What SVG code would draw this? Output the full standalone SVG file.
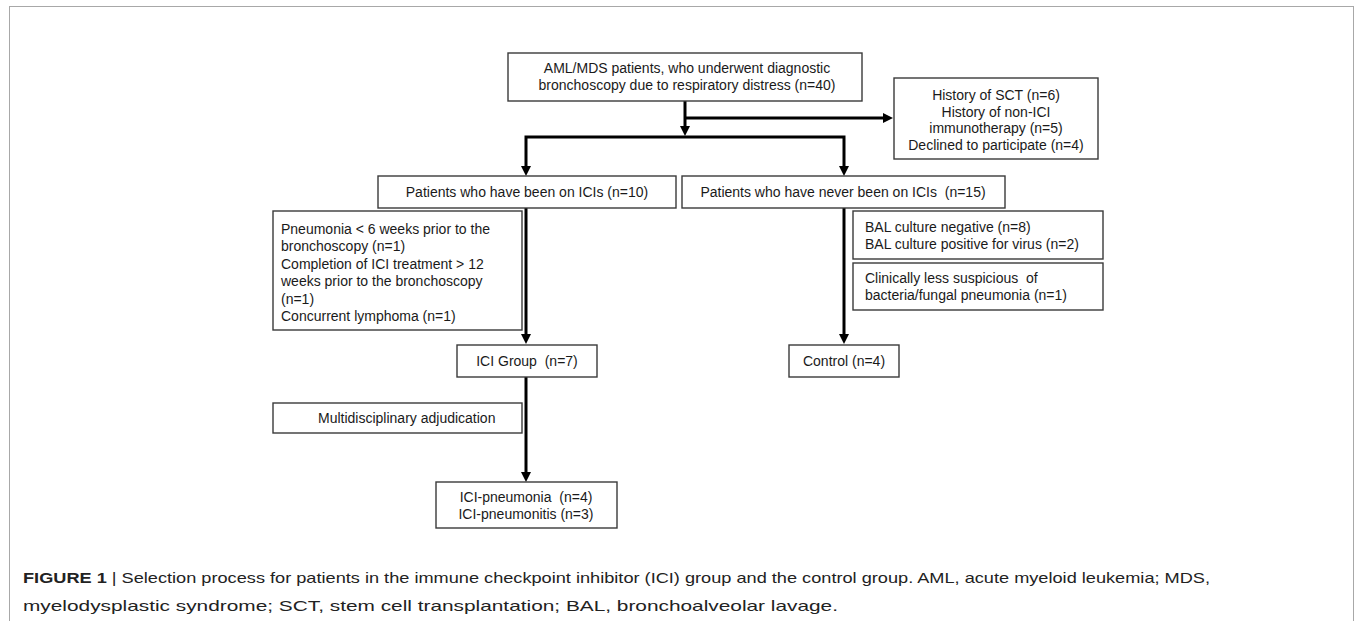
<svg xmlns="http://www.w3.org/2000/svg" width="1355" height="621" viewBox="0 0 1355 621">
<style>
text{font-family:"Liberation Sans",Arial,sans-serif;font-size:14px;fill:#1a1a1a}
.c{text-anchor:middle}
.box{fill:#fff;stroke:#3a3a3a;stroke-width:1.4}
.con{fill:none;stroke:#000;stroke-width:3;marker-end:url(#ah)}
.cap{font-size:15px;fill:#222}
</style>
<defs>
<marker id="ah" markerUnits="userSpaceOnUse" markerWidth="12" markerHeight="12" refX="2" refY="5" orient="auto">
<path d="M0,0 L10,5 L0,10 z" fill="#000"/>
</marker>
</defs>
<rect x="9.5" y="6.5" width="1344" height="620" fill="none" stroke="#a8a8a8" stroke-width="1"/>
<g id="connectors">
<path class="con" d="M685,101 V128"/>
<path class="con" d="M685,118 H885"/>
<path class="con" d="M685,137 H526 V168"/>
<path class="con" d="M685,137 H844 V168"/>
<path class="con" d="M526,208 V336"/>
<path class="con" d="M844,208 V336"/>
<path class="con" d="M526,377 V474"/>
</g>
<g id="n-all">
<rect class="box" x="508" y="53" width="354" height="48"/>
<text class="c" x="687" y="73">AML/MDS patients, who underwent diagnostic</text>
<text class="c" x="687" y="90">bronchoscopy due to respiratory distress (n=40)</text>
</g>
<g id="n-excl1">
<rect class="box" x="894" y="78" width="204" height="81"/>
<text class="c" x="996" y="100">History of SCT (n=6)</text>
<text class="c" x="996" y="116.5">History of non-ICI</text>
<text class="c" x="996" y="133">immunotherapy (n=5)</text>
<text class="c" x="996" y="149.5">Declined to participate (n=4)</text>
</g>
<g id="n-ici">
<rect class="box" x="378" y="176" width="298" height="32"/>
<text class="c" x="527" y="197">Patients who have been on ICIs (n=10)</text>
</g>
<g id="n-nonici">
<rect class="box" x="682" y="176" width="323" height="32"/>
<text class="c" x="843" y="197">Patients who have never been on ICIs&#160; (n=15)</text>
</g>
<g id="n-excl2">
<rect class="box" x="273" y="211" width="249" height="119"/>
<text x="281" y="233.5">Pneumonia &lt; 6 weeks prior to the</text>
<text x="281" y="251">bronchoscopy (n=1)</text>
<text x="281" y="268.5">Completion of ICI treatment &gt; 12</text>
<text x="281" y="286">weeks prior to the bronchoscopy</text>
<text x="281" y="303.5">(n=1)</text>
<text x="281" y="321">Concurrent lymphoma (n=1)</text>
</g>
<g id="n-bal">
<rect class="box" x="853" y="211" width="250" height="48"/>
<text x="865" y="232">BAL culture negative (n=8)</text>
<text x="865" y="249">BAL culture positive for virus (n=2)</text>
</g>
<g id="n-clin">
<rect class="box" x="853" y="263" width="250" height="47"/>
<text x="865" y="283">Clinically less suspicious&#160; of</text>
<text x="865" y="300">bacteria/fungal pneumonia (n=1)</text>
</g>
<g id="n-icigroup">
<rect class="box" x="457" y="345" width="140" height="32"/>
<text class="c" x="527" y="366">ICI Group&#160; (n=7)</text>
</g>
<g id="n-control">
<rect class="box" x="789" y="345" width="110" height="32"/>
<text class="c" x="844" y="366">Control (n=4)</text>
</g>
<g id="n-multi">
<rect class="box" x="273" y="403" width="249" height="30"/>
<text x="318" y="423">Multidisciplinary adjudication</text>
</g>
<g id="n-result">
<rect class="box" x="436" y="482" width="181" height="46"/>
<text class="c" x="526" y="502">ICI-pneumonia&#160; (n=4)</text>
<text class="c" x="526" y="519">ICI-pneumonitis (n=3)</text>
</g>
<g id="caption">
<text class="cap" x="23" y="583" textLength="1187" lengthAdjust="spacingAndGlyphs"><tspan font-weight="bold">FIGURE 1</tspan> | Selection process for patients in the immune checkpoint inhibitor (ICI) group and the control group. AML, acute myeloid leukemia; MDS,</text>
<text class="cap" x="23" y="611" textLength="815" lengthAdjust="spacingAndGlyphs">myelodysplastic syndrome; SCT, stem cell transplantation; BAL, bronchoalveolar lavage.</text>
</g>
</svg>
